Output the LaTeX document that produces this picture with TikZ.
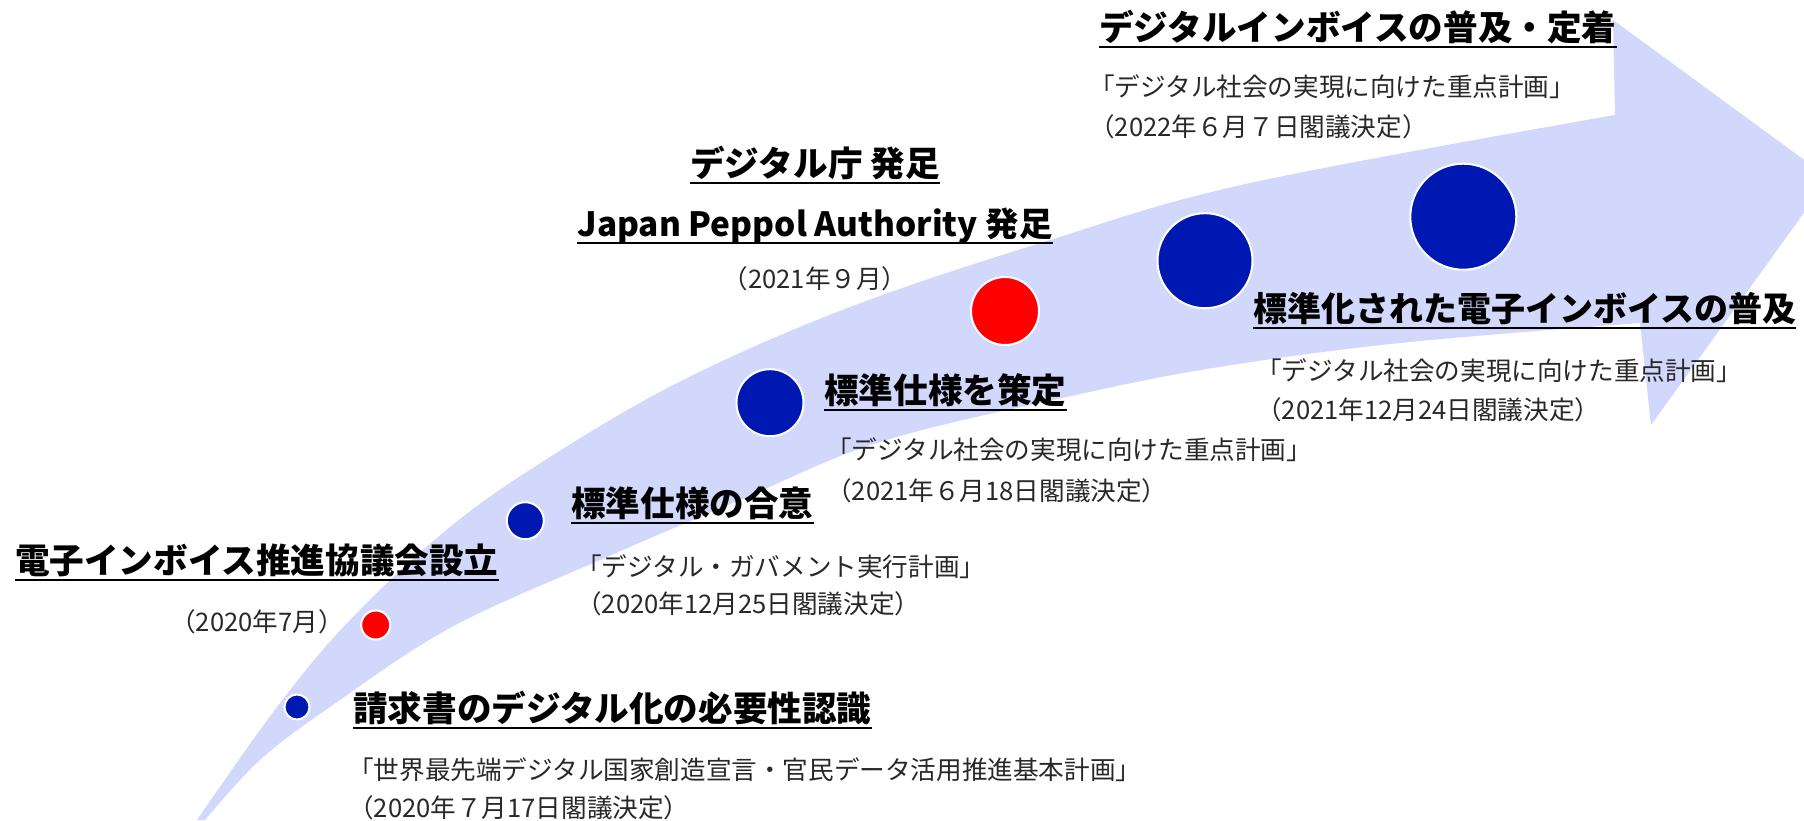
\documentclass[tikz,border=0pt]{standalone}
\usepackage{fontspec}
\newfontfamily\jpfont{Noto Sans CJK JP}
\definecolor{bandc}{RGB}{210,216,252}
\definecolor{dotblue}{RGB}{0,24,178}
\definecolor{dotred}{RGB}{255,0,0}
\definecolor{subc}{RGB}{40,40,40}
\tikzset{
 ttl/.style={font=\jpfont\bfseries\fontsize{34.6}{40}\selectfont, inner sep=0pt, anchor=base west, text=black},
 subt/.style={font=\jpfont\fontsize{25.6}{30}\selectfont, inner sep=0pt, anchor=west, text=subc},
 uline/.style={line width=2pt, black},
 dotb/.style={circle, fill=dotblue, draw=white, line width=2pt, inner sep=0pt},
 dotr/.style={circle, fill=dotred, draw=white, line width=2pt, inner sep=0pt},
}
\begin{document}
\begin{tikzpicture}[x=1pt,y=-1pt]
\useasboundingbox (0,0) rectangle (1804,820);
\clip (0,0) rectangle (1804,820);
% band arrow
\fill[bandc] plot[smooth,tension=0.6] coordinates {(197,820) (277,707) (350,620) (450,527) (550,457) (683,380) (850,307) (1050,240) (1250,183) (1615,115)}
  -- (1613,20) -- (1829,178) -- (1651,425) -- (1640,323)
  -- plot[smooth,tension=0.6] coordinates {(1640,323) (1400,343) (1213,368) (1067,397) (880,442) (740,500) (600,560) (450,628) (330,707) (260,760) (205,820)}
  -- cycle;
% dots
\node[dotb, minimum size=25pt] (d1) at (297,707) {};
\node[dotr, minimum size=29pt] (r1) at (375.7,625) {};
\node[dotb, minimum size=37pt] (d2) at (525.3,520.7) {};
\node[dotb, minimum size=67pt] (d3) at (770,402.7) {};
\node[dotr, minimum size=68pt] (r2) at (1005,311) {};
\node[dotb, minimum size=95pt] (d4) at (1205,260.7) {};
\node[dotb, minimum size=106pt] (d5) at (1463.3,216.7) {};
% titles
\node[ttl] (t1) at (15,573) {電子インボイス推進協議会設立};
\node[ttl] (t2) at (353,721) {請求書のデジタル化の必要性認識};
\node[ttl] (t3) at (571,516) {標準仕様の合意};
\node[ttl] (t4) at (824,403) {標準仕様を策定};
\node[ttl, anchor=base] (t5) at (815,176) {デジタル庁 発足};
\node[ttl, anchor=base, font=\jpfont\bfseries\fontsize{33.4}{40}\selectfont] (t6) at (815,236) {Japan Peppol Authority 発足};
\node[ttl] (t7) at (1099,40) {デジタルインボイスの普及・定着};
\node[ttl, font=\jpfont\bfseries\fontsize{34}{40}\selectfont] (t8) at (1253,321) {標準化された電子インボイスの普及};
\foreach \t in {t1,t2,t3,t4,t5,t6,t7,t8}{
  \draw[uline] ([yshift=-7pt]\t.base west) -- ([yshift=-7pt]\t.base east);
}
% sub texts
\node[subt] (s1a) at (348,770) {「世界最先端デジタル国家創造宣言・官民データ活用推進基本計画」};
\node[subt] (s1b) at (348,808) {（2020年７月17日閣議決定）};
\node[subt] (s2a) at (576,567) {「デジタル・ガバメント実行計画」};
\node[subt] (s2b) at (576,604) {（2020年12月25日閣議決定）};
\node[subt] (s3a) at (826,450) {「デジタル社会の実現に向けた重点計画」};
\node[subt] (s3b) at (826,491) {（2021年６月18日閣議決定）};
\node[subt] (s4a) at (1089,87) {「デジタル社会の実現に向けた重点計画」};
\node[subt] (s4b) at (1089,127) {（2022年６月７日閣議決定）};
\node[subt] (s5a) at (1256,371) {「デジタル社会の実現に向けた重点計画」};
\node[subt] (s5b) at (1256,410) {（2021年12月24日閣議決定）};
\node[subt, anchor=east] (s6) at (344,622) {（2020年7月）};
\node[subt, anchor=center] (s7) at (815,279) {（2021年９月）};
\end{tikzpicture}
\end{document}
